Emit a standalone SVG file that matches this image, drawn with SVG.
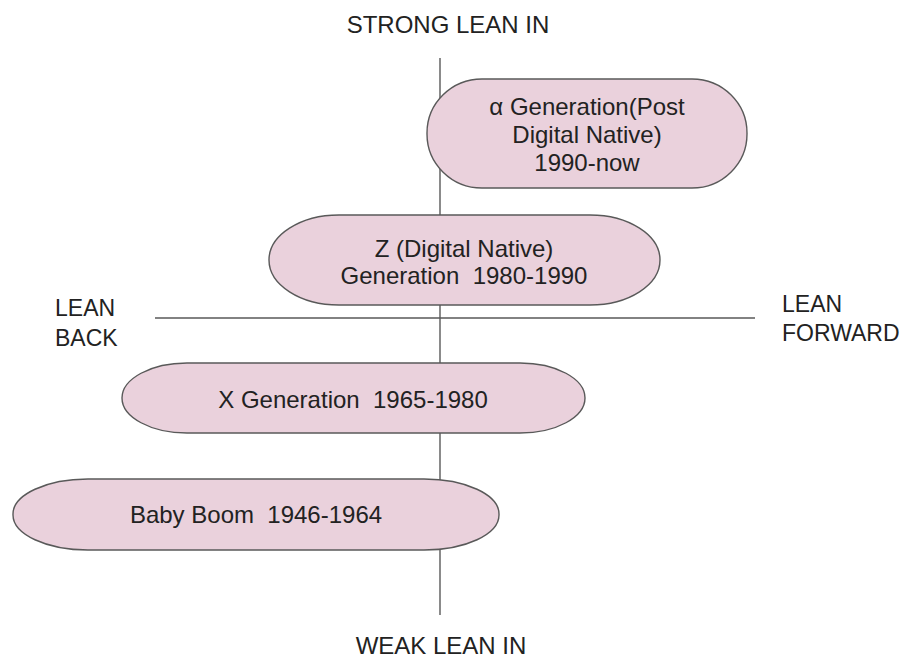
<svg xmlns="http://www.w3.org/2000/svg" width="907" height="661" viewBox="0 0 907 661">
  <style>
    .axis { stroke: #595959; stroke-width: 1.4; fill: none; }
    .node { fill: #ead1dc; stroke: #595959; stroke-width: 1.4; }
    text { font-family: "Liberation Sans", Arial, sans-serif; fill: #222222; white-space: pre; }
    .t { font-size: 24px; text-anchor: middle; }
    .side { font-size: 23px; }
  </style>
  <rect width="907" height="661" fill="#ffffff"/>
  <g id="connectors">
    <line class="axis" x1="440" y1="58" x2="440" y2="615"/>
    <line class="axis" x1="155" y1="318" x2="755" y2="318"/>
  </g>
  <g id="labels">
    <text class="t" x="448" y="33">STRONG LEAN IN</text>
    <text class="t" x="441" y="654">WEAK LEAN IN</text>
    <text class="side" x="55" y="316">LEAN</text>
    <text class="side" x="55" y="346">BACK</text>
    <text class="side" x="782" y="312">LEAN</text>
    <text class="side" x="782" y="341">FORWARD</text>
  </g>
  <g id="alpha">
    <rect class="node" x="427" y="79" width="320" height="109" rx="55" ry="54"/>
    <text class="t" x="587" y="115">α Generation(Post</text>
    <text class="t" x="587" y="143">Digital Native)</text>
    <text class="t" x="587" y="171">1990-now</text>
  </g>
  <g id="genz">
    <rect class="node" x="269" y="215" width="391" height="90" rx="70" ry="45"/>
    <text class="t" x="464" y="257">Z (Digital Native)</text>
    <text class="t" x="464" y="284">Generation  1980-1990</text>
  </g>
  <g id="genx">
    <rect class="node" x="122" y="363" width="463" height="70" rx="65" ry="35"/>
    <text class="t" x="353" y="408">X Generation  1965-1980</text>
  </g>
  <g id="babyboom">
    <rect class="node" x="13" y="479" width="486" height="71" rx="75" ry="35"/>
    <text class="t" x="256" y="523">Baby Boom  1946-1964</text>
  </g>
</svg>
